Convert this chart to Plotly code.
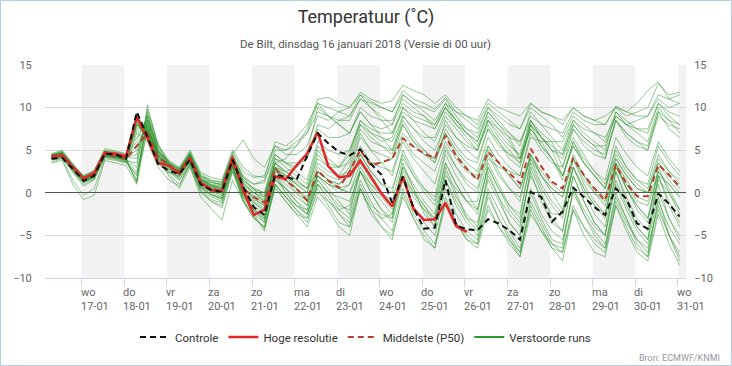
import pandas as pd
import plotly.graph_objects as go

# 6-hourly forecast times (local time), run of 16-01-2018 00 UTC
times = pd.date_range("2018-01-16 07:00", periods=60, freq="6h")

control = [4.0, 4.1, 2.8, 1.4, 2.0, 4.6, 4.5, 4.0, 9.5, 6.6, 3.4, 2.6,
           2.2, 3.9, 1.0, 0.3, 0.1, 3.9, 0.7, -1.7, -2.6, 2.1, 1.9, 1.5,
           4.3, 7.0, 5.8, 4.8, 4.4, 5.1, 3.4, 2.1, -1.2, 1.9, -1.8, -4.2,
           -4.1, 1.5, -3.8, -4.3, -4.4, -3.1, -3.6, -4.4, -5.5, 0.1, -0.5, -3.4,
           -2.2, 0.6, -0.5, -1.7, -2.6, 0.5, -0.7, -3.6, -4.2, -0.1, -1.3, -2.8]

hres = [4.3, 4.4, 3.0, 1.7, 2.3, 4.7, 4.6, 4.3, 8.9, 6.4, 3.5, 3.2,
        2.3, 4.1, 1.2, 0.3, 0.2, 4.2, 0.3, -2.6, -2.0, 1.9, 1.6, 3.2,
        4.6, 7.1, 3.1, 1.8, 2.0, 3.8, 1.9, -0.1, -1.6, 1.9, -1.9, -3.2,
        -3.1, -1.2, -3.9, -4.6]

p50 = [4.2, 4.4, 3.0, 1.7, 2.2, 4.4, 4.3, 4.0, 5.5, 7.0, 4.2, 3.2,
       2.4, 3.9, 1.1, 0.5, 0.2, 3.6, 0.5, -0.5, -1.2, 2.9, 1.4, 0.5,
       -0.9, 2.6, 1.4, 0.6, 2.5, 5.0, 3.2, 3.6, 4.0, 6.4, 5.4, 4.6,
       4.1, 6.7, 4.3, 2.8, 1.5, 4.8, 3.5, 2.3, 1.1, 5.2, 3.1, 1.3,
       0.5, 4.1, 2.1, 0.5, -0.9, 3.3, 1.1, -0.4, -0.4, 3.3, 2.1, 0.7]

runs = [
    [4.4,4.8,3.2,1.9, 2.5,4.9,4.7,4.4, 8.8,7.2,4.3,3.4, 2.8,4.5,1.8,1.0, 0.8,4.2,1.6,0.4, -0.5,3.5,4.0,5.5, 7.0,10.5,10.0,9.5, 9.0,11.5,10.8,10.0, 9.5,12.0,11.0,10.5, 9.8,11.2,9.5,8.5, 7.5,10.0,8.5,7.0, 6.0,9.0,8.0,7.5, 7.0,9.5,8.5,8.0, 8.0,10.0,9.0,9.5, 10.0,12.8,11.5,11.8],
    [4.0,4.3,2.6,1.2, 1.8,4.5,4.2,3.9, 1.2,10.3,5.5,3.5, 2.0,3.8,0.8,0.2, -0.3,3.2,-0.5,-2.5, -3.5,1.5,0.5,-1.0, -2.5,1.5,0.0,-2.0, -3.0,1.5,-1.0,-3.0, -4.5,0.5,-2.5,-4.5, -6.0,-1.0,-3.5,-5.0, -6.0,-1.5,-4.0,-5.5, -7.0,-2.0,-4.5,-6.0, -7.0,-1.5,-4.0,-5.5, -6.5,-1.0,-3.5,-5.5, -6.5,-1.5,-5.0,-7.5],
    [4.3,4.6,3.1,1.5, 2.1,4.4,4.3,4.0, 8.0,7.5,4.5,3.0, 2.4,4.3,1.3,0.5, 0.3,4.0,0.8,-1.0, -1.8,2.8,2.0,1.0, 0.0,4.5,3.0,2.0, 2.5,6.5,5.0,4.5, 4.0,8.0,6.0,5.0, 4.0,8.5,6.5,5.5, 5.0,8.0,6.0,4.0, 3.0,8.0,5.5,4.0, 1.5,6.0,3.5,2.0, 0.5,5.5,3.0,1.5, 1.0,5.5,3.5,2.0],
    [3.8,4.1,2.4,0.8, 1.5,4.2,4.0,3.6, 2.0,8.5,5.0,3.2, 1.5,3.5,0.5,-0.5, -1.0,3.0,-1.0,-3.0, -4.0,1.0,-0.5,-2.0, -3.0,1.0,-1.0,-2.5, -3.5,1.0,-1.5,-2.5, -3.0,2.0,-0.5,-2.0, -4.0,1.5,-1.5,-3.5, -5.0,0.5,-2.0,-4.5, -6.5,0.0,-3.0,-5.5, -6.0,0.5,-2.0,-4.0, -5.0,1.5,-1.5,-4.0, -5.5,1.0,-3.0,-5.5],
    [4.5,4.9,3.3,2.0, 2.6,5.0,4.8,4.5, 9.2,7.0,4.0,2.8, 2.6,4.6,2.0,1.4, 1.2,4.5,2.0,1.0, 1.5,4.5,3.5,3.0, 4.0,8.0,7.5,8.5, 9.0,11.0,10.0,9.0, 8.0,10.5,9.5,9.0, 8.0,10.0,8.5,7.0, 6.0,9.5,8.0,7.0, 5.5,9.5,8.0,6.5, 5.0,8.5,7.0,6.0, 5.0,9.5,8.0,7.5, 7.0,10.5,9.5,9.0],
    [4.1,4.4,2.9,1.4, 1.9,4.3,4.1,3.8, 3.5,9.0,5.0,3.0, 2.0,3.6,0.9,0.2, -0.2,3.5,0.3,-1.5, -2.5,2.0,1.0,0.0, -1.0,2.0,1.0,0.5, 0.0,3.5,1.5,0.0, -1.5,3.0,1.0,-1.0, -2.5,3.5,1.0,-1.0, -2.5,3.5,1.0,-1.5, -3.0,4.0,1.0,-1.0, -2.5,4.0,1.0,-1.0, -2.5,3.5,0.5,-1.5, -3.0,2.5,0.5,-2.0],
    [4.2,4.5,3.0,1.7, 2.3,4.6,4.4,4.2, 7.5,8.0,4.5,3.3, 2.5,4.4,1.6,0.9, 0.6,4.0,1.2,0.0, -1.0,3.5,2.5,1.5, 0.5,5.0,3.5,3.0, 4.5,8.5,7.5,7.0, 7.0,10.0,8.5,7.0, 6.0,9.0,7.5,6.0, 5.0,8.5,7.0,5.5, 4.5,8.5,6.5,5.0, 4.0,7.5,6.0,5.0, 4.5,8.5,6.5,5.5, 5.0,9.0,8.0,7.5],
    [3.5,3.8,1.0,-0.8, -0.3,3.8,3.5,3.2, 1.0,7.5,4.0,2.0, 0.5,3.0,0.0,-1.0, -1.5,2.5,-0.5,-2.0, -3.0,1.0,-0.5,-2.0, -3.5,0.5,-1.5,-3.5, -4.0,0.5,-2.0,-3.0, -2.5,2.5,0.0,-1.5, -3.0,2.5,-0.5,-2.5, -4.0,1.5,-1.0,-3.5, -5.0,0.5,-2.5,-4.5, -5.5,0.0,-2.5,-4.5, -6.0,-0.5,-3.0,-5.5, -7.0,-1.0,-4.0,-6.0],
    [4.4,4.6,3.2,1.8, 2.4,4.8,4.6,4.3, 6.0,9.0,5.0,3.6, 2.8,4.8,2.2,1.5, 1.3,4.8,2.5,1.8, 2.0,5.5,5.0,5.5, 7.5,11.0,11.2,10.5, 10.0,11.8,11.0,10.5, 10.8,12.6,12.0,11.5, 10.5,11.5,10.0,9.0, 8.0,10.5,9.5,8.5, 7.5,10.0,9.0,8.0, 6.5,9.0,8.0,7.0, 6.0,9.5,8.5,7.5, 7.5,10.5,9.0,8.0],
    [4.2,4.4,3.0,1.6, 2.2,4.6,4.5,4.1, 5.5,7.8,4.2,3.2, 2.4,4.0,1.2,0.5, 0.2,3.7,0.6,-0.5, -1.2,3.0,1.5,0.5, -0.8,2.5,1.5,1.0, 2.5,5.5,3.5,3.5, 4.0,7.0,5.5,4.5, 4.0,7.0,4.5,3.0, 1.5,5.5,3.5,2.0, 0.5,4.0,2.0,0.5, -0.5,4.0,1.5,0.0, -1.5,3.0,1.0,-1.0, -1.5,2.0,1.0,-0.5],
    [4.0,4.2,2.7,1.3, 1.7,4.4,4.2,3.9, 8.3,6.5,3.5,2.5, 1.8,3.8,0.6,-0.2, -0.6,3.3,0.0,-2.0, -3.0,1.5,0.5,-0.5, -1.5,2.0,1.0,0.5, 0.0,2.5,0.5,-1.0, -2.5,2.0,0.0,-2.0, -3.0,2.0,0.5,-1.0, -1.0,4.0,3.0,2.5, 2.0,6.5,6.0,6.0, 6.0,8.5,7.5,7.0, 6.5,9.0,8.0,8.5, 9.0,11.5,11.0,11.5],
    [4.3,4.7,3.1,1.8, 2.3,4.8,4.5,4.2, 8.6,6.8,4.0,3.1, 2.6,4.3,1.5,0.7, 0.5,4.1,1.5,0.5, 0.0,4.0,3.0,2.0, 1.0,5.5,4.0,3.0, 3.5,7.5,6.0,5.5, 5.0,9.0,7.5,6.5, 6.5,9.5,8.0,7.0, 6.0,9.0,7.5,6.5, 6.0,8.5,7.0,6.0, 3.0,6.5,4.5,2.5, 1.0,5.0,3.0,1.5, 0.5,4.5,2.5,1.0],
    [4.1,4.3,2.8,1.4, 2.0,4.4,4.1,3.8, 2.5,8.0,4.5,3.0, 2.0,3.6,0.8,0.0, -0.5,3.2,-0.2,-2.2, -3.2,2.2,0.0,-1.5, -2.0,1.5,0.0,-1.5, -2.0,2.5,0.0,-2.0, -3.5,1.5,-1.5,-3.5, -5.0,0.5,-2.5,-4.5, -5.5,0.0,-3.0,-5.5, -7.5,-1.0,-3.5,-6.0, -6.5,0.5,-2.5,-5.0, -6.5,0.0,-3.0,-6.0, -7.5,-0.5,-5.0,-8.0],
    [4.6,5.0,3.4,2.0, 2.6,5.2,4.9,4.6, 9.0,7.5,4.8,3.8, 3.0,5.0,2.4,1.8, 1.5,5.0,3.0,2.0, 1.8,6.0,5.5,6.5, 8.0,10.5,9.0,8.0, 7.0,9.5,8.0,6.5, 5.0,8.0,6.0,4.5, 3.5,7.0,5.0,3.5, 2.5,6.5,4.5,3.0, 2.0,7.0,5.0,3.5, 3.0,7.5,5.5,4.5, 4.0,8.5,7.0,6.0, 5.0,9.5,7.5,6.5],
    [4.0,4.3,2.8,1.5, 2.0,4.5,4.3,4.0, 1.5,8.8,5.2,3.4, 2.2,4.1,1.0,0.3, 0.0,3.6,0.4,-1.2, -2.2,2.5,1.5,0.0, -1.5,2.5,1.5,0.5, 1.0,4.5,2.5,1.0, 0.0,5.0,2.5,0.5, -1.0,4.5,2.0,0.0, -2.0,3.0,0.5,-1.5, -2.5,3.5,0.5,-1.5, -3.0,3.0,0.0,-2.5, -4.0,2.5,-0.5,-3.0, -4.5,2.0,-1.0,-3.5],
    [4.3,4.6,3.1,1.7, 2.2,4.7,4.5,4.2, 4.0,9.5,5.5,3.8, 2.7,4.6,1.9,1.2, 0.9,4.4,1.8,0.5, 0.0,4.5,3.5,2.5, 1.5,6.0,5.0,4.5, 5.0,8.5,7.0,6.0, 6.5,10.0,9.0,8.5, 8.0,10.5,9.5,9.0, 8.5,11.0,10.0,9.5, 9.0,10.5,9.5,9.0, 8.5,10.0,9.0,8.5, 8.0,10.2,9.5,9.0, 9.0,11.0,10.0,10.5],
    [3.6,4.0,1.5,-0.3, 0.5,4.0,3.8,3.5, 7.0,6.0,3.0,1.5, 0.8,3.4,0.3,-0.8, -1.2,2.8,-0.8,-2.8, -4.2,0.5,-1.0,-2.5, -3.0,0.0,-1.0,-2.0, -1.5,3.0,1.0,-0.5, -2.0,3.0,0.5,-1.5, -3.5,1.5,-1.0,-3.0, -3.5,2.0,-0.5,-2.5, -4.0,2.5,-1.0,-3.5, -4.5,2.0,-1.0,-3.5, -5.0,1.0,-2.0,-4.5, -6.0,0.0,-3.0,-5.0],
    [4.2,4.4,2.9,1.5, 2.1,4.5,4.3,4.0, 7.8,7.0,4.0,2.8, 2.3,4.0,1.5,1.2, 1.0,4.5,6.2,4.0, 3.0,5.5,4.5,4.5, 5.5,9.0,8.5,9.5, 10.0,11.5,10.0,8.5, 7.0,9.5,8.5,8.0, 7.5,10.0,8.0,6.5, 5.0,8.5,7.5,6.0, 4.0,8.0,6.5,5.5, 4.5,8.0,6.5,5.5, 5.5,9.0,8.0,7.0, 6.0,10.0,8.5,8.0],
    [4.4,4.7,3.1,1.6, 2.3,4.6,4.4,4.1, 8.0,7.2,4.2,3.0, 2.5,4.2,1.3,0.6, 0.3,3.8,0.8,-0.6, -1.5,2.5,1.8,1.2, 0.5,2.5,1.5,1.0, 2.0,5.0,3.5,3.0, 2.5,6.5,4.5,3.5, 2.5,6.0,4.0,2.5, 2.0,5.5,3.5,2.0, 0.5,4.5,2.5,1.0, 0.0,4.5,2.0,0.0, -1.0,3.5,1.5,-0.5, -1.0,2.5,1.0,-0.5],
    [4.0,4.2,2.6,1.2, 1.8,4.3,4.1,3.7, 1.3,8.2,4.5,2.5, 1.5,3.2,-0.5,-1.8, -3.2,1.5,-1.0,-2.5, -4.5,1.0,-0.5,-1.5, -2.5,1.0,0.0,-0.5, -1.0,2.5,1.0,0.0, -1.0,4.0,2.0,0.5, -0.5,5.0,3.0,1.5, 0.5,5.0,2.5,0.5, -1.0,4.5,2.0,0.0, -2.0,3.0,0.5,-1.5, -2.5,3.0,0.5,-1.5, -3.0,1.5,0.0,-2.0],
    [4.5,4.8,3.3,1.9, 2.4,4.9,4.6,4.3, 8.7,7.5,4.6,3.5, 2.9,4.7,2.0,1.3, 1.0,4.3,1.8,1.0, 1.2,5.0,5.0,6.0, 7.0,9.5,9.0,8.5, 8.5,11.0,10.5,10.0, 9.5,11.5,10.5,9.5, 8.5,10.5,8.5,7.0, 5.5,8.5,6.5,5.0, 3.5,7.5,5.5,4.0, 2.0,5.5,3.5,2.0, 0.5,4.5,2.5,1.0, 0.0,4.0,2.5,1.5],
    [4.1,4.4,2.7,1.3, 1.9,4.4,4.2,3.9, 3.0,9.8,5.8,3.6, 2.1,3.9,0.7,-0.2, -0.8,3.0,-0.3,-2.0, -3.5,1.8,0.0,-1.5, -2.5,1.0,-0.5,-2.5, -4.0,0.5,-2.0,-4.0, -5.0,-0.5,-3.0,-5.0, -6.5,-1.5,-3.5,-5.5, -6.5,-2.0,-4.0,-6.0, -7.5,-2.5,-4.5,-6.5, -7.0,-2.0,-4.0,-6.0, -7.0,-1.5,-4.0,-6.5, -7.5,-2.0,-5.0,-7.0],
    [4.3,4.5,3.0,1.7, 2.2,4.7,4.4,4.1, 5.0,8.5,4.8,3.4, 2.6,4.4,1.4,0.8, 0.4,3.9,1.0,0.0, -0.5,3.5,2.5,1.5, 0.5,4.0,3.0,3.0, 5.0,8.0,7.0,6.5, 6.0,9.0,7.5,6.0, 5.0,8.0,6.5,5.0, 4.0,7.5,6.0,4.5, 3.5,8.0,6.5,5.0, 4.5,8.0,6.5,5.5, 4.0,8.5,7.0,6.0, 5.5,9.5,8.5,7.0],
    [4.2,4.5,2.9,1.5, 2.1,4.6,4.3,4.0, 8.4,6.2,3.6,2.7, 2.2,4.0,1.1,0.4, 0.0,3.6,0.4,-1.2, -2.0,2.8,1.5,0.5, -1.0,2.0,1.0,0.0, 1.0,4.5,2.5,1.0, 0.5,4.5,2.0,0.0, -1.5,3.5,1.0,-1.0, -2.0,3.0,0.5,-2.0, -3.5,2.0,-0.5,-2.5, -2.5,3.0,0.5,-1.5, -3.0,3.5,0.5,-2.0, -3.5,3.0,0.0,-2.5],
    [4.4,4.7,3.2,1.8, 2.4,4.8,4.6,4.3, 8.9,7.1,4.2,3.2, 2.7,4.5,1.7,0.9, 0.7,4.1,1.4,0.3, -0.3,4.0,3.5,3.5, 4.0,7.5,6.5,6.5, 7.0,10.0,9.0,8.5, 8.5,11.0,10.0,9.0, 7.5,10.0,8.5,7.5, 7.0,10.0,9.0,8.0, 7.5,10.5,9.5,9.0, 8.0,10.0,9.0,8.5, 9.0,10.0,9.5,10.5, 12.0,13.0,11.0,10.5],
    [3.9,4.1,2.5,1.0, 1.6,4.2,3.9,3.6, 2.2,7.0,3.8,2.2, 1.0,3.3,0.2,-1.0, -1.8,2.5,-1.0,-3.0, -4.0,0.8,-1.0,-2.5, -4.0,-0.5,-2.0,-4.0, -5.0,0.5,-2.5,-4.0, -5.5,0.0,-3.0,-5.5, -6.5,-0.5,-3.5,-5.5, -6.0,-0.5,-3.0,-5.0, -7.0,-1.5,-4.0,-6.5, -8.0,-2.0,-5.0,-7.0, -7.5,-1.5,-4.5,-7.0, -8.0,-2.5,-6.0,-8.5],
    [4.2,4.6,3.0,1.6, 2.2,4.6,4.4,4.1, 6.5,8.5,4.8,3.3, 2.4,4.2,1.3,0.5, 0.2,3.8,0.7,-0.8, -1.5,3.0,2.0,0.5, -0.5,3.0,2.0,1.5, 3.0,7.0,5.0,3.5, 2.0,6.0,4.0,2.5, 1.0,5.5,3.0,1.0, 0.0,4.5,2.0,0.5, -0.5,4.5,2.0,0.5, -0.5,4.0,2.0,0.5, -0.5,4.0,2.0,0.5, 0.0,3.5,2.0,0.5],
    [4.3,4.6,3.1,1.7, 2.3,4.7,4.5,4.2, 4.5,9.2,5.5,3.5, 2.6,4.5,1.6,0.8, 0.6,4.0,1.2,0.0, -0.8,3.0,2.5,3.0, 4.5,10.0,9.0,8.0, 7.0,9.5,8.0,7.5, 8.0,11.5,10.5,10.0, 9.5,11.0,9.0,7.5, 6.5,9.5,8.0,6.5, 4.0,7.5,6.0,4.0, 2.0,5.5,3.5,2.0, 0.5,4.0,2.0,0.5, 0.0,3.5,1.5,0.0],
    [4.1,4.4,2.8,1.4, 2.0,4.5,4.2,3.9, 8.1,6.4,3.4,2.4, 1.9,3.7,0.7,-0.3, -0.7,3.1,-0.2,-1.8, -2.8,2.0,0.5,-1.0, -2.0,2.0,0.5,-1.0, -2.5,2.5,0.0,-2.0, -3.0,3.5,0.5,-2.5, -4.0,3.0,0.0,-3.0, -4.5,2.5,-0.5,-3.5, -5.0,3.0,0.0,-3.0, -4.5,2.0,-1.0,-3.5, -5.0,2.5,-1.0,-4.0, -5.5,2.0,-1.5,-4.0],
    [4.4,4.6,3.0,1.7, 2.3,4.6,4.4,4.1, 7.2,7.8,4.4,3.2, 2.5,4.3,1.5,0.7, 0.4,4.0,1.0,-0.3, -1.0,3.5,2.0,1.0, 0.0,3.5,2.5,2.0, 4.0,8.0,6.5,5.5, 4.5,8.5,6.5,5.0, 3.5,7.5,5.5,4.0, 3.5,7.5,5.5,4.5, 4.0,8.5,6.5,5.0, 2.0,6.0,4.0,2.5, 1.5,6.5,4.5,3.0, 2.0,6.0,4.0,2.5],
]

tick_days = pd.date_range("2018-01-17", "2018-01-31", freq="D")
tick_names = ["wo", "do", "vr", "za", "zo", "ma", "di", "wo",
              "do", "vr", "za", "zo", "ma", "di", "wo"]
band_days = tick_days[::2]
y_ticks = [-10, -5, 0, 5, 10, 15]

FONT = "Roboto, 'Open Sans', sans-serif"

fig = go.Figure()
for r in runs:
    fig.add_trace(go.Scatter(x=times[:len(r)], y=r, mode="lines",
                             line=dict(color="rgba(40,145,40,0.5)", width=1),
                             showlegend=False, hoverinfo="skip"))
fig.add_trace(go.Scatter(x=[None], y=[None], mode="lines",
                         line=dict(color="#2b9a2b", width=2),
                         name="Verstoorde runs", legendrank=4))
fig.add_trace(go.Scatter(x=times[:len(p50)], y=p50, mode="lines",
                         line=dict(color="#b5402f", width=2, dash="6px,4px"),
                         name="Middelste (P50)", legendrank=3))
fig.add_trace(go.Scatter(x=times[:len(hres)], y=hres, mode="lines",
                         line=dict(color="#e3262b", width=2.5),
                         name="Hoge resolutie", legendrank=2))
fig.add_trace(go.Scatter(x=times[:len(control)], y=control, mode="lines",
                         line=dict(color="#111111", width=2, dash="6px,4px"),
                         name="Controle", legendrank=1))
fig.add_trace(go.Scatter(x=[times[0]], y=[0], yaxis="y2", mode="markers",
                         marker=dict(opacity=0), showlegend=False, hoverinfo="skip"))

shapes = []
for d in band_days:
    shapes.append(dict(type="rect", xref="x", yref="paper", x0=d,
                       x1=d + pd.Timedelta(days=1), y0=0, y1=1,
                       fillcolor="#f2f2f2", line=dict(width=0), layer="below"))
# outer frame of the chart
shapes.append(dict(type="rect", xref="paper", yref="paper",
                   x0=(0.5 - 45) / 641, x1=(731.5 - 45) / 641,
                   y0=(278 - 365.5) / 213, y1=(278 - 0.5) / 213,
                   line=dict(color="#b3cde2", width=1), fillcolor="rgba(0,0,0,0)"))

annotations = []
for d, nm in zip(tick_days, tick_names):
    annotations.append(dict(x=d, y=0, xref="x", yref="paper",
                            text=f"{nm}<br>{d.strftime('%d-%m')}",
                            showarrow=False, xanchor="left", yanchor="top",
                            align="left", xshift=-3, yshift=-6,
                            font=dict(family=FONT, size=11, color="#666666")))
annotations.append(dict(x=0.5, y=1, xref="paper", yref="paper",
                        text="De Bilt, dinsdag 16 januari 2018 (Versie di 00 uur)",
                        showarrow=False, xanchor="center", yanchor="middle",
                        yshift=21, font=dict(family=FONT, size=11.5, color="#555555")))
annotations.append(dict(x=1, y=0, xref="paper", yref="paper",
                        text="Bron: ECMWF/KNMI", showarrow=False,
                        xanchor="right", yanchor="middle", xshift=36, yshift=-80,
                        font=dict(family=FONT, size=9, color="#999999")))

fig.update_layout(
    template="none",
    width=732, height=366,
    margin=dict(l=45, r=46, t=65, b=88, autoexpand=False),
    paper_bgcolor="white", plot_bgcolor="white",
    font=dict(family=FONT, color="#333333"),
    title=dict(text="Temperatuur (˚C)", x=0.5, xref="container", xanchor="center",
               y=1 - 17 / 366, yref="container", yanchor="middle",
               font=dict(family=FONT, size=18, color="#333333")),
    showlegend=True,
    legend=dict(orientation="h", x=0.5, xanchor="center", y=-0.277, yanchor="middle",
                font=dict(family=FONT, size=11.5, color="#333333"),
                itemwidth=30, bgcolor="rgba(0,0,0,0)"),
    xaxis=dict(type="date", automargin=False,
               range=["2018-01-16 03:18", "2018-01-31 04:34"],
               showgrid=False, zeroline=False,
               tickmode="array", tickvals=list(tick_days), ticktext=[""] * len(tick_days),
               showticklabels=False, ticks="outside", ticklen=8, tickcolor="#ccd6eb",
               showline=True, linecolor="#ccd6eb", linewidth=1),
    yaxis=dict(range=[-10, 15], tickmode="array", tickvals=y_ticks, automargin=False,
               showgrid=True, gridcolor="#dadada", gridwidth=1,
               zeroline=True, zerolinecolor="#555555", zerolinewidth=1,
               ticks="outside", ticklen=10, tickcolor="rgba(0,0,0,0)",
               tickfont=dict(family=FONT, size=11, color="#666666"), showline=False),
    yaxis2=dict(range=[-10, 15], overlaying="y", side="right", tickmode="array",
                tickvals=y_ticks, showgrid=False, zeroline=False, automargin=False,
                ticks="outside", ticklen=5, tickcolor="rgba(0,0,0,0)",
                tickfont=dict(family=FONT, size=11, color="#666666"), showline=False),
    shapes=shapes,
    annotations=annotations,
)

fig.write_html("out.html",
               config={"displayModeBar": False},
               post_script="document.body.style.margin='0px';document.body.style.overflow='hidden';")
